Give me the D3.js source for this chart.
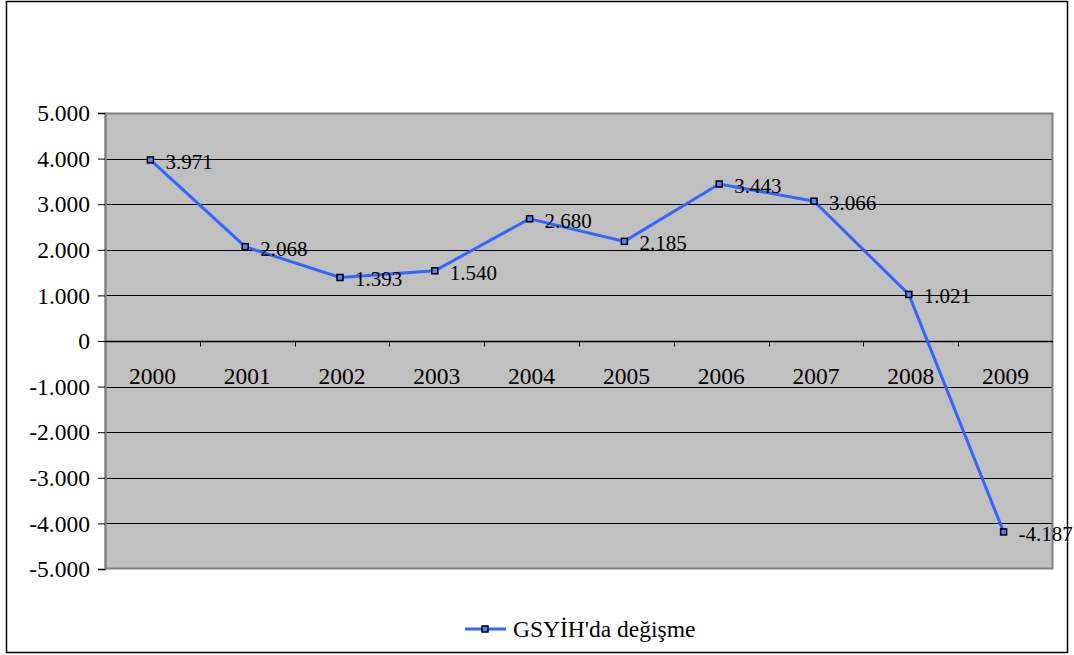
<!DOCTYPE html>
<html>
<head>
<meta charset="utf-8">
<script src="https://cdn.jsdelivr.net/npm/d3@7"></script>
</head>
<body style="margin:0">
<svg id="chart" width="1074" height="655"></svg>
<script>
let years = ["2000", "2001", "2002", "2003", "2004", "2005", "2006", "2007", "2008", "2009"];
let values = [3971, 2068, 1393, 1540, 2680, 2185, 3443, 3066, 1021, -4187];
let yTicks = [5000, 4000, 3000, 2000, 1000, 0, -1000, -2000, -3000, -4000, -5000];
let seriesName = "GSYİH'da değişme";

let plot = { left: 105, right: 1053, top: 113, bottom: 569 };
let serif = "\"Liberation Serif\"";

let svg = d3.select("#chart");

// outer chart border
svg.append("rect")
    .attr("x", 6.5)
    .attr("y", 1.5)
    .attr("width", 1061)
    .attr("height", 651)
    .attr("fill", "#fff")
    .attr("stroke", "#000")
    .attr("stroke-width", 1.5);

let xScale = d3.scaleBand()
    .domain(years)
    .range([plot.left, plot.right]);

let yScale = d3.scaleLinear()
    .domain([-5000, 5000])
    .range([plot.bottom, plot.top]);

let fmt = v => v === 0 ? "0" : d3.format(",")(v).replace(/,/g, ".").replace("−", "-");

// plot background
svg.append("rect")
    .attr("x", plot.left)
    .attr("y", plot.top)
    .attr("width", plot.right - plot.left)
    .attr("height", plot.bottom - plot.top)
    .attr("fill", "#c0c0c0");

// gridlines
svg.append("g")
    .selectAll("line")
    .data(yTicks.filter(d => d !== 5000 && d !== -5000 && d !== 0))
    .enter()
    .append("line")
    .attr("x1", plot.left)
    .attr("x2", plot.right)
    .attr("y1", d => Math.round(yScale(d)) + 0.5)
    .attr("y2", d => Math.round(yScale(d)) + 0.5)
    .attr("stroke", "#000")
    .attr("stroke-width", 1);

// plot border
svg.append("rect")
    .attr("x", plot.left + 0.5)
    .attr("y", plot.top + 0.5)
    .attr("width", plot.right - plot.left - 1)
    .attr("height", plot.bottom - plot.top - 1)
    .attr("fill", "none")
    .attr("stroke", "#808080")
    .attr("stroke-width", 2);

// y axis
let yAxis = d3.axisLeft(yScale)
    .tickValues(yTicks)
    .tickFormat(fmt)
    .tickSize(7)
    .tickPadding(8);

let yg = svg.append("g")
    .attr("transform", `translate(${plot.left}, 0)`)
    .call(yAxis);
yg.select(".domain").attr("stroke", "#808080").attr("stroke-width", 2);
yg.selectAll(".tick line").attr("stroke", "#000");
yg.selectAll(".tick text")
    .attr("fill", "#000")
    .attr("dy", "0.33em")
    .style("font-family", serif)
    .style("font-size", "23.5px");

// x axis at zero, ticks between categories
let zeroY = Math.round(yScale(0)) + 0.5;
let xg = svg.append("g");
xg.append("line")
    .attr("x1", plot.left)
    .attr("x2", plot.right)
    .attr("y1", zeroY)
    .attr("y2", zeroY)
    .attr("stroke", "#000")
    .attr("stroke-width", 1.5);
xg.selectAll(".xtick")
    .data(years.slice(1))
    .enter()
    .append("line")
    .attr("class", "xtick")
    .attr("x1", d => Math.round(xScale(d)) + 0.5)
    .attr("x2", d => Math.round(xScale(d)) + 0.5)
    .attr("y1", zeroY)
    .attr("y2", zeroY + 5)
    .attr("stroke", "#000");
xg.selectAll(".xlabel")
    .data(years)
    .enter()
    .append("text")
    .attr("class", "xlabel")
    .attr("x", d => xScale(d) + xScale.bandwidth() / 2)
    .attr("y", zeroY + 42)
    .attr("text-anchor", "middle")
    .style("font-family", serif)
    .style("font-size", "23.5px")
    .text(d => d);

// series line
let points = years.map((y, i) => ({ year: y, value: values[i] }));

let line = d3.line()
    .x(d => xScale(d.year) + xScale.bandwidth() / 2 - 2)
    .y(d => yScale(d.value));

svg.append("path")
    .datum(points)
    .attr("d", line)
    .attr("fill", "none")
    .attr("stroke", "#3366ff")
    .attr("stroke-width", 3);

svg.selectAll(".marker")
    .data(points)
    .enter()
    .append("rect")
    .attr("class", "marker")
    .attr("x", d => xScale(d.year) + xScale.bandwidth() / 2 - 5)
    .attr("y", d => yScale(d.value) - 3)
    .attr("width", 6)
    .attr("height", 6)
    .attr("fill", "#5b7fff")
    .attr("stroke", "#000")
    .attr("stroke-width", 1.5);

svg.selectAll(".dlabel")
    .data(points)
    .enter()
    .append("text")
    .attr("class", "dlabel")
    .attr("x", d => xScale(d.year) + xScale.bandwidth() / 2 + 13)
    .attr("y", d => yScale(d.value) + 9)
    .style("font-family", serif)
    .style("font-size", "21px")
    .text(d => fmt(d.value));

// legend
let legend = svg.append("g").attr("transform", "translate(465, 629)");
legend.append("line")
    .attr("x1", 0)
    .attr("x2", 41)
    .attr("y1", 0)
    .attr("y2", 0)
    .attr("stroke", "#3366ff")
    .attr("stroke-width", 3);
legend.append("rect")
    .attr("x", 17)
    .attr("y", -3)
    .attr("width", 6)
    .attr("height", 6)
    .attr("fill", "#5b7fff")
    .attr("stroke", "#000")
    .attr("stroke-width", 1.5);
legend.append("text")
    .attr("x", 48)
    .attr("y", 8)
    .style("font-family", serif)
    .style("font-size", "23.5px")
    .text(seriesName);
</script>
</body>
</html>
